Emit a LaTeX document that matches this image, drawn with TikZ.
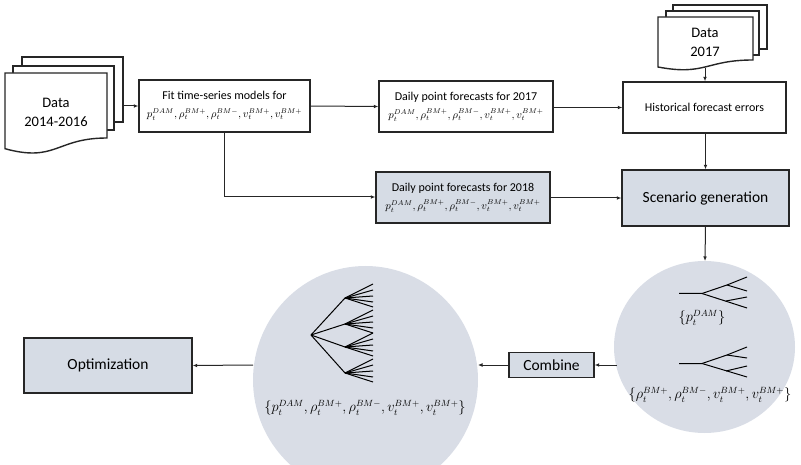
\documentclass[tikz,border=0pt]{standalone}
\usepackage{fontspec}
\setmainfont{Carlito}
\usetikzlibrary{arrows.meta}
\DeclareMathSizes{12}{11}{6.8}{5}
\DeclareMathSizes{13}{14.5}{9.3}{6.5}
\definecolor{bgrey}{HTML}{D6DCE5}
\definecolor{cgrey}{HTML}{D9DDE6}
\definecolor{edge}{HTML}{262626}
\newcommand{\varsall}{$p_t^{DAM}, \rho_t^{BM+}, \rho_t^{BM-}, v_t^{BM+}, v_t^{BM+}$}
\begin{document}
\begin{tikzpicture}[x=1pt,y=-1pt,
  box/.style={draw=edge, line width=1.4pt, align=center, inner sep=0pt},
  greybox/.style={box, fill=bgrey},
  arr/.style={draw=edge, line width=1pt, -{Latex[length=4.5pt,width=3.8pt]}},
  doc/.style={draw=edge, line width=1.4pt, fill=white},
  treeline/.style={draw=black, line width=1pt},
  smalltext/.style={font=\fontsize{12}{18}\selectfont},
  labeltext/.style={font=\fontsize{13}{16}\selectfont},
  bigtext/.style={font=\fontsize{15.5}{19}\selectfont},
  datatext/.style={font=\fontsize{14.5}{19.5}\selectfont},
  blob/.style={fill=cgrey, draw=none},
]
\useasboundingbox (0,0) rectangle (801,465);

% circles (background)
\path[blob] (365.5,380) ellipse [x radius=112.5pt, y radius=114pt];
\path[blob] (704.5,347) ellipse [x radius=90.5pt, y radius=86pt];

% data stack 2014-2016
\filldraw[doc] (22,57) rectangle (123,122);
\filldraw[doc] (13,66) rectangle (114,130);
\filldraw[doc] (5,73) -- (107,73) -- (107,138) .. controls (56,138) and (56,162.7) .. (5,148.7) -- cycle;
\node[datatext, align=center] (d1) at (56,112.5) {Data\\2014-2016};
\coordinate (d1out) at (123,106);

% data stack 2017
\filldraw[doc] (673,5) rectangle (767,49);
\filldraw[doc] (666,11) rectangle (759,55);
\filldraw[doc] (658,17) -- (753,17) -- (753,60) .. controls (705.5,60) and (705.5,76) .. (658,67) -- cycle;
\node[datatext, align=center] (d2) at (705,42.5) {Data\\2017};
\coordinate (d2out) at (705,68.5);

% boxes
\node[box, smalltext, minimum width=171pt, minimum height=52pt] (fit) at (224.5,106) {Fit time-series models for\\ \varsall};
\node[box, smalltext, minimum width=174pt, minimum height=51pt] (f17) at (466,106.5) {Daily point forecasts for 2017\\ \varsall};
\node[box, smalltext, minimum width=163pt, minimum height=51pt] (hist) at (704.5,107.5) {Historical forecast errors};
\node[greybox, smalltext, minimum width=174pt, minimum height=51pt] (f18) at (463,197.5) {Daily point forecasts for 2018\\ \varsall};
\node[greybox, bigtext, minimum width=167pt, minimum height=56pt] (scen) at (705.5,198) {Scenario generation};
\node[greybox, bigtext, minimum width=85pt, minimum height=25pt] (comb) at (551.5,365) {Combine};
\node[greybox, bigtext, minimum width=168pt, minimum height=55pt] (opt) at (108,365.5) {Optimization};

% circle anchors
\coordinate (rctop) at (705,261);
\coordinate (rcleft) at (617,365);
\coordinate (lcright) at (478,365);
\coordinate (lcleft) at (253,365);
\coordinate (bend) at (224,197);

% connectors
\draw[arr] (d1out) -- (fit.west);
\draw[arr] (fit.east) -- (f17.west);
\draw[arr] (f17.east |- hist.west) -- (hist.west);
\draw[arr] (d2out) -- (d2out |- hist.north);
\draw[arr] (hist.south -| scen.north) -- (scen.north);
\draw[arr] (fit.south -| bend) -- (bend) -- (f18.west |- bend);
\draw[arr] (f18.east |- scen.west) -- (scen.west);
\draw[arr] (scen.south) -- (rctop);
\draw[arr] (rcleft) -- (comb.east);
\draw[arr] (comb.west) -- (lcright);
\draw[arr] (lcleft) -- (opt.east);

% right circle trees
\draw[treeline] (679,293.5) -- (702,293.5) -- (727,285) -- (747,277);
\draw[treeline] (727,285) -- (747,291);
\draw[treeline] (702,293.5) -- (747,308);
\draw[treeline] (726,301) -- (747,297);
\node[labeltext] (lab1) at (702,318) {$\{p_t^{DAM}\}$};

\draw[treeline] (679,363.5) -- (702,363.5) -- (727,355) -- (747,347);
\draw[treeline] (727,355) -- (747,358);
\draw[treeline] (702,363.5) -- (747,377);
\draw[treeline] (726,371) -- (747,366);
\node[labeltext] (lab2) at (710,395) {$\{\rho_t^{BM+}, \rho_t^{BM-}, v_t^{BM+}, v_t^{BM+}\}$};

% left circle tree
\foreach \y in {298,324,347,373}{
  \draw[treeline] (311,335) -- (345,\y);
  \foreach \d in {-14,-8,-2,4,9}{
    \draw[treeline] (345,\y) -- (373,\y+\d);
  }
}
\node[labeltext] (lab3) at (365,408) {$\{p_t^{DAM}, \rho_t^{BM+}, \rho_t^{BM-}, v_t^{BM+}, v_t^{BM+}\}$};
\end{tikzpicture}
\end{document}
